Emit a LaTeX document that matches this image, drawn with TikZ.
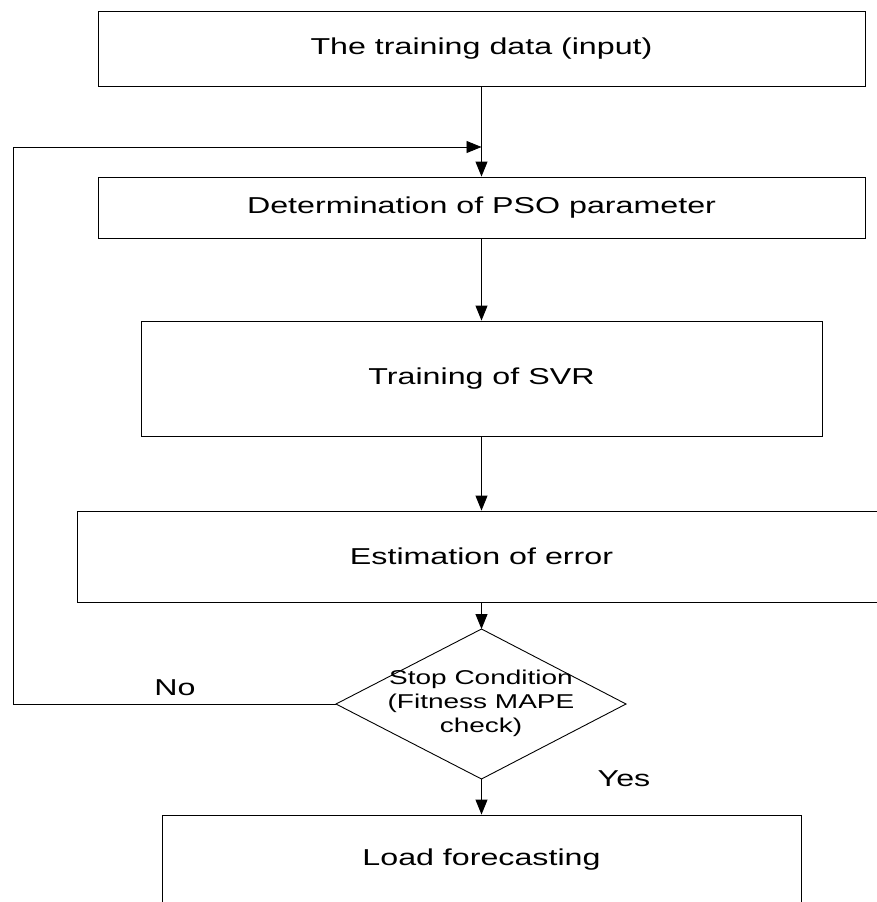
\documentclass[tikz,border=0pt]{standalone}
\usepackage{fontspec}
\setmainfont{Liberation Sans}[FakeStretch=1.4]
\usetikzlibrary{arrows.meta}
\begin{document}
\begin{tikzpicture}[x=1pt,y=-1pt,
  box/.style={draw, line width=0.9pt, inner sep=0pt, font=\fontsize{23}{27}\selectfont},
  conn/.style={line width=0.9pt, -{Triangle[length=15pt,width=12pt]}},
  plain/.style={line width=0.9pt},
  lbl/.style={font=\fontsize{23}{27}\selectfont, inner sep=0pt}]
\useasboundingbox (0,0) rectangle (876,902);
\node[box, minimum width=767pt, minimum height=75pt] (b1) at (481.5,48.5) {The training data (input)};
\node[box, minimum width=767pt, minimum height=61pt] (b2) at (481.5,207.5) {Determination of PSO parameter};
\node[box, minimum width=681pt, minimum height=115pt] (b3) at (481.5,378.5) {Training of SVR};
\node[box, minimum width=809pt, minimum height=91pt] (b4) at (481.5,556.5) {Estimation of error};
\node[box, minimum width=639pt, minimum height=90pt] (b5) at (481.5,860) {Load forecasting};
\coordinate (dT) at (481.5,629);
\coordinate (dB) at (481.5,779);
\coordinate (dL) at (336,704);
\coordinate (dR) at (626,704);
\draw[plain] (dT) -- (dR) -- (dB) -- (dL) -- cycle;
\node[align=center, inner sep=0pt, font=\fontsize{20}{24}\selectfont] (dtext) at (481,703) {Stop Condition\\(Fitness MAPE\\check)};
\coordinate (c1) at (13,704);
\coordinate (c2) at (13,147);
\coordinate (m) at (481.5,147);
\draw[conn] (b1.south) -- (b2.north);
\draw[conn] (dL) -- (c1) -- (c2) -- (m);
\draw[conn] (b2.south) -- (b3.north);
\draw[conn] (b3.south) -- (b4.north);
\draw[conn] (b4.south) -- (dT);
\draw[conn] (dB) -- (b5.north);
\node[lbl] (no) at (175,688) {No};
\node[lbl] (yes) at (624,779) {Yes};
\end{tikzpicture}
\end{document}
